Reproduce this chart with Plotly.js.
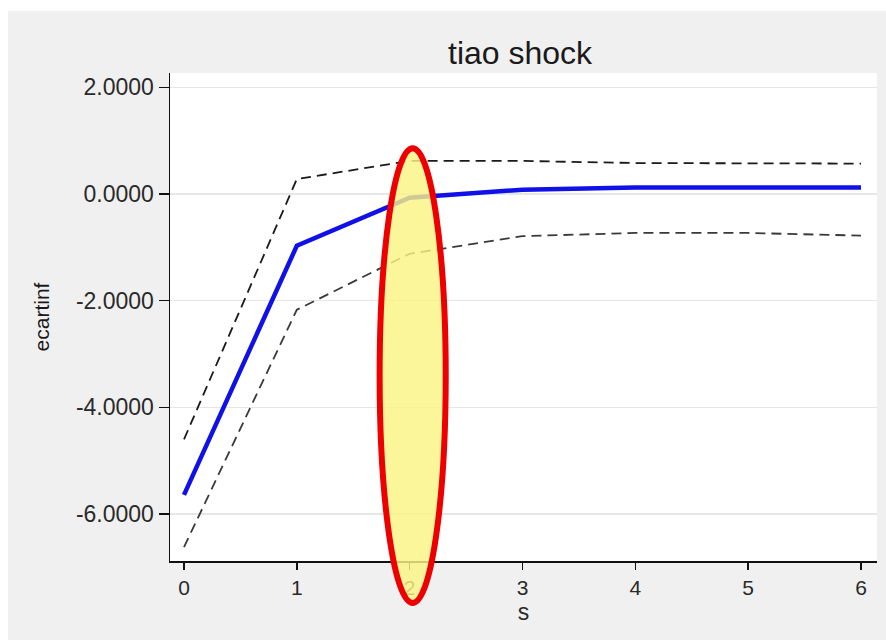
<!DOCTYPE html>
<html>
<head>
<meta charset="utf-8">
<script src="https://cdn.plot.ly/plotly-3.0.1.min.js"></script>
<style>
  html, body { margin: 0; padding: 0; background: #ffffff; width: 886px; height: 640px; overflow: hidden; }
  #bg { position: absolute; left: 8px; top: 11px; width: 878px; height: 629px; background: #f0f0f0; }
  #chart { position: absolute; left: 0; top: 0; width: 886px; height: 640px; }
</style>
</head>
<body>
<div id="bg"></div>
<div id="chart"></div>
<script>
// ---- data ----
const steps = [0, 1, 2, 3, 4, 5, 6];
const irf = [-5.64, -0.97, -0.07, 0.08, 0.12, 0.12, 0.12];
const upperBand = [-4.60, 0.28, 0.62, 0.62, 0.58, 0.57, 0.57];
const lowerBand = [-6.62, -2.17, -1.12, -0.79, -0.73, -0.73, -0.78];
const yTickVals = [-6, -4, -2, 0, 2];
const yTickText = ['-6.0000', '-4.0000', '-2.0000', '0.0000', '2.0000'];
const xTickVals = [0, 1, 2, 3, 4, 5, 6];
const xTickText = ['0', '1', '2', '3', '4', '5', '6'];

const font = 'Liberation Sans, Arial, sans-serif';

const traces = [
  { x: steps, y: upperBand, type: 'scatter', mode: 'lines',
    line: { color: '#1a1a1a', width: 1.8, dash: '10px,6px' }, hoverinfo: 'skip' },
  { x: steps, y: lowerBand, type: 'scatter', mode: 'lines',
    line: { color: '#3a3a3a', width: 1.8, dash: '10px,6px' }, hoverinfo: 'skip' },
  { x: steps, y: irf, type: 'scatter', mode: 'lines',
    line: { color: '#1010e8', width: 4.5 } }
];

const layout = {
  width: 886, height: 640,
  margin: { l: 170, r: 9, t: 73, b: 79 },
  paper_bgcolor: 'rgba(0,0,0,0)',
  plot_bgcolor: '#ffffff',
  showlegend: false,
  font: { family: font, color: '#222222' },
  title: { text: 'tiao shock', x: 0.587, xanchor: 'center', y: 0.917, yanchor: 'middle',
           yref: 'container', font: { family: font, size: 32, color: '#1a1a1a' } },
  xaxis: {
    range: [-0.124, 6.142], tickvals: xTickVals, ticktext: xTickText,
    showgrid: false, zeroline: false, showline: true, linecolor: '#111111', linewidth: 1.5,
    ticks: 'outside', ticklen: 7, tickwidth: 1.5, tickcolor: '#111111',
    tickfont: { family: font, size: 21, color: '#2a2a2a' },
    title: { text: 's', standoff: 0, font: { family: font, size: 23, color: '#2a2a2a' } }
  },
  yaxis: {
    range: [-6.879, 2.268], tickvals: yTickVals, ticktext: yTickText,
    showgrid: true, gridcolor: '#e6e6e6', gridwidth: 1.5, zeroline: false,
    showline: true, linecolor: '#111111', linewidth: 1.5,
    ticks: 'outside', ticklen: 10, tickwidth: 1.5, tickcolor: '#111111',
    tickfont: { family: font, size: 23, color: '#2a2a2a' },
    title: { text: 'ecartinf', standoff: 20, font: { family: font, size: 21, color: '#1a1a1a' } }
  },
  shapes: [
    { type: 'circle', xref: 'paper', yref: 'paper', layer: 'above',
      x0: 0.2965, x1: 0.390, y0: -0.086, y1: 0.846,
      fillcolor: 'rgba(250,244,130,0.82)',
      line: { color: '#ee0000', width: 6 } }
  ]
};

Plotly.newPlot('chart', traces, layout, { staticPlot: true, displayModeBar: false });
</script>
</body>
</html>
